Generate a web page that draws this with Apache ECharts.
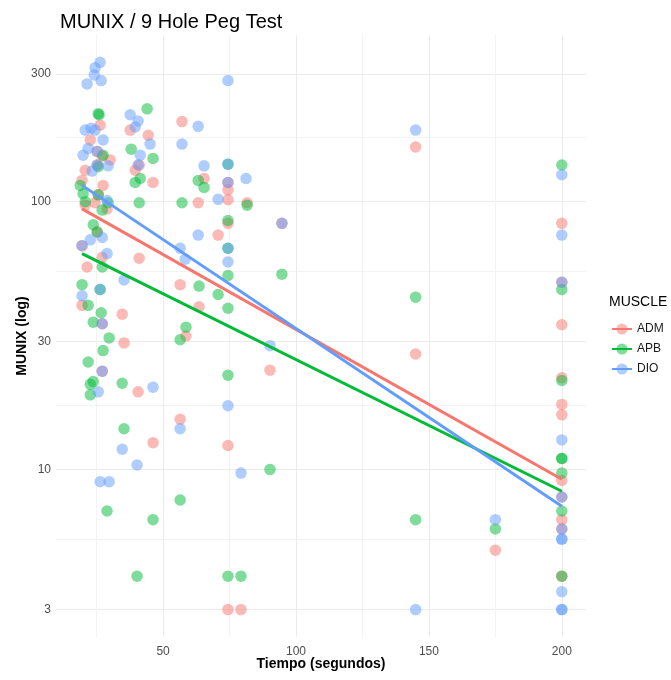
<!DOCTYPE html>
<html>
<head>
<meta charset="utf-8">
<script src="https://cdn.jsdelivr.net/npm/echarts@6/dist/echarts.min.js"></script>
<style>
  html, body { margin: 0; padding: 0; background: #fff; }
  #chart { width: 671px; height: 680px; }
</style>
</head>
<body>
<div id="chart"></div>
<script>
// MUNIX value vs 9 Hole Peg Test time, one point per subject and muscle.
const muscles = ['ADM', 'APB', 'DIO'];
const colors = { ADM: '#F8766D', APB: '#00BA38', DIO: '#619CFF' };

// [time (s), MUNIX]
const admPoints = [
  [26.3, 193], [37.6, 185], [22.6, 170], [27.1, 148], [30.1, 143], [20.7, 131], [39.5, 131],
  [41.0, 137], [19.5, 120], [27.4, 115], [25.6, 106], [20.7, 97], [24.4, 99], [28.9, 94],
  [25.2, 77], [27.1, 62], [21.4, 57], [19.5, 41], [34.6, 38], [35.3, 29.7], [40.6, 19.5],
  [41.0, 61.5], [44.4, 177], [46.2, 118], [25.2, 154], [25.2, 137], [19.5, 68.5], [27.1, 35],
  [27.1, 23.3], [46.2, 12.6], [56.4, 15.4], [58.6, 31.5], [63.5, 40.5], [90.2, 23.5],
  [56.4, 49], [57.1, 199], [65.4, 122], [63.2, 99], [70.7, 75], [81.6, 99], [94.7, 83],
  [74.4, 118], [74.4, 110.7], [74.4, 101.6], [74.4, 83], [74.4, 12.3], [74.4, 3], [79.3, 3],
  [145, 160], [145, 27], [175, 5.0],
  [200, 83], [200, 50], [200, 34.7], [200, 22], [200, 17.5], [200, 16], [200, 9.1],
  [200, 7.9], [200, 6.5], [200, 6.0], [200, 4]
];
const apbPoints = [
  [25.6, 213], [25.9, 211], [44.0, 222], [38.0, 157], [27.4, 149], [25.6, 135], [46.2, 145],
  [41.4, 122], [39.5, 118], [18.8, 115], [19.9, 107], [25.6, 106], [20.7, 100], [27.1, 93],
  [29.3, 99], [41.0, 99], [57.1, 99], [63.2, 120], [65.4, 113], [81.6, 97], [23.7, 82],
  [25.2, 77], [27.1, 57], [19.5, 49], [26.3, 47], [21.8, 41], [26.7, 38.5], [23.7, 35.5],
  [29.7, 31], [27.4, 27.8], [21.8, 25.2], [23.7, 21.3], [22.6, 20.8], [22.6, 19], [34.6, 21],
  [35.3, 14.2], [94.7, 53.6], [63.5, 48.4], [70.7, 45], [58.6, 34], [56.4, 30.5], [56.4, 7.7],
  [28.9, 7.0], [46.2, 6.5], [40.2, 4], [90.2, 10],
  [74.4, 138], [74.4, 85], [74.4, 67], [74.4, 53], [74.4, 40], [74.4, 22.5], [74.4, 4], [79.3, 4],
  [145, 44], [145, 6.5], [175, 6.0],
  [200, 137], [200, 47], [200, 21.5], [200, 11], [200, 11], [200, 9.7], [200, 7.0], [200, 4]
];
const dioPoints = [
  [26.3, 331], [24.4, 316], [24.1, 297], [26.7, 283], [21.4, 275], [20.7, 185], [22.9, 188],
  [24.4, 185], [27.4, 170], [21.8, 158], [19.9, 149], [29.3, 136], [23.3, 130], [28.9, 101],
  [22.6, 72], [27.1, 73.5], [28.9, 64], [26.3, 47], [19.5, 44.5], [27.1, 35], [27.1, 23.3],
  [25.6, 19.5], [26.3, 9.0], [29.7, 9.0], [25.2, 154], [25.2, 137], [19.5, 68.5],
  [37.6, 211], [40.6, 200], [39.5, 190], [41.4, 149], [40.6, 137], [45.1, 164], [57.1, 164],
  [63.2, 191], [65.4, 136], [70.7, 102], [81.2, 122], [63.2, 75], [56.4, 67], [58.3, 61],
  [35.3, 51], [90.2, 29], [46.2, 20.3], [56.4, 14.2], [34.6, 11.9], [40.2, 10.4], [79.3, 9.7],
  [94.7, 83],
  [74.4, 283], [74.4, 138], [74.4, 118], [74.4, 67], [74.4, 59.5], [74.4, 17.3],
  [145, 185], [145, 3], [175, 6.5],
  [200, 126], [200, 75], [200, 50], [200, 12.9], [200, 7.9], [200, 6.0], [200, 5.5],
  [200, 5.5], [200, 3.5], [200, 3], [200, 3]
];

// Fitted log-linear trend per muscle: [start, end]
const admFit = [[19.5, 94], [200, 9.2]];
const apbFit = [[19.5, 64], [200, 8.3]];
const dioFit = [[19.5, 115], [200, 7.3]];

// Axis breaks
const xMajor = [50, 100, 150, 200];
const xMinor = [25, 75, 125, 175];
const yMajor = [3, 10, 30, 100, 300];
const yMinor = [5.477, 17.32, 54.77, 173.2];
const xRange = [9.7, 209.1];
const yRange = [2.371, 418.8];

const pointsBy = { ADM: admPoints, APB: apbPoints, DIO: dioPoints };
const fitBy = { ADM: admFit, APB: apbFit, DIO: dioFit };

const FONT = 'Liberation Sans, Arial, sans-serif';
const gridColor = '#ebebeb';

const series = [];
muscles.forEach(m => {
  series.push({
    name: m + ' points',
    type: 'scatter',
    data: pointsBy[m],
    symbolSize: 11.5,
    itemStyle: { color: colors[m], opacity: 0.5 },
    silent: true,
    z: 2
  });
});
muscles.forEach(m => {
  series.push({
    name: m,
    type: 'line',
    data: fitBy[m],
    showSymbol: false,
    symbol: 'circle',
    symbolSize: 11,
    lineStyle: { color: colors[m], width: 3 },
    itemStyle: { color: colors[m], opacity: 0.5 },
    silent: true,
    z: 3
  });
});

const chart = echarts.init(document.getElementById('chart'), null, { renderer: 'canvas' });
chart.setOption({
  animation: false,
  backgroundColor: '#ffffff',
  textStyle: { fontFamily: FONT },
  title: [
    { text: 'MUNIX / 9 Hole Peg Test', left: 55, top: 7,
      textStyle: { fontSize: 20, fontWeight: 'normal', color: '#000', fontFamily: FONT } },
    { text: 'MUSCLE', left: 604, top: 290,
      textStyle: { fontSize: 14, fontWeight: 'normal', color: '#000', fontFamily: FONT } }
  ],
  legend: {
    data: muscles,
    orient: 'vertical',
    left: 606,
    top: 318,
    itemWidth: 20,
    itemHeight: 14,
    itemGap: 8,
    textStyle: { fontSize: 12, color: '#1a1a1a', fontFamily: FONT }
  },
  grid: { left: 56, top: 35, width: 530, height: 602, containLabel: false },
  xAxis: [
    {
      type: 'value', min: xRange[0], max: xRange[1],
      axisLine: { show: false },
      axisTick: { show: false, customValues: xMajor },
      axisLabel: { customValues: xMajor, color: '#4d4d4d', fontSize: 12, margin: 9, fontFamily: FONT },
      splitLine: { show: true, lineStyle: { color: gridColor, width: 1 } },
      name: 'Tiempo (segundos)', nameLocation: 'middle', nameGap: 20, nameMoveOverlap: false,
      nameTextStyle: { fontSize: 14, fontWeight: 'bold', color: '#000', fontFamily: FONT,
        verticalAlign: 'top' }
    },
    {
      type: 'value', min: xRange[0], max: xRange[1], position: 'top',
      axisLine: { show: false },
      axisTick: { show: false, customValues: xMinor },
      axisLabel: { show: false },
      splitLine: { show: true, lineStyle: { color: '#f3f3f3', width: 1 } }
    }
  ],
  yAxis: [
    {
      type: 'log', logBase: 10, min: yRange[0], max: yRange[1],
      axisLine: { show: false },
      axisTick: { show: false, customValues: yMajor },
      axisLabel: { customValues: yMajor, color: '#4d4d4d', fontSize: 12, margin: 5, fontFamily: FONT },
      splitLine: { show: true, lineStyle: { color: gridColor, width: 1 } },
      name: 'MUNIX (log)', nameLocation: 'middle', nameGap: 34, nameRotate: 90, nameMoveOverlap: false,
      nameTextStyle: { fontSize: 14, fontWeight: 'bold', color: '#000', fontFamily: FONT,
        verticalAlign: 'middle' }
    },
    {
      type: 'log', logBase: 10, min: yRange[0], max: yRange[1], position: 'right',
      axisLine: { show: false },
      axisTick: { show: false, customValues: yMinor },
      axisLabel: { show: false },
      splitLine: { show: true, lineStyle: { color: '#f3f3f3', width: 1 } }
    }
  ],
  series: series
});
</script>
</body>
</html>
